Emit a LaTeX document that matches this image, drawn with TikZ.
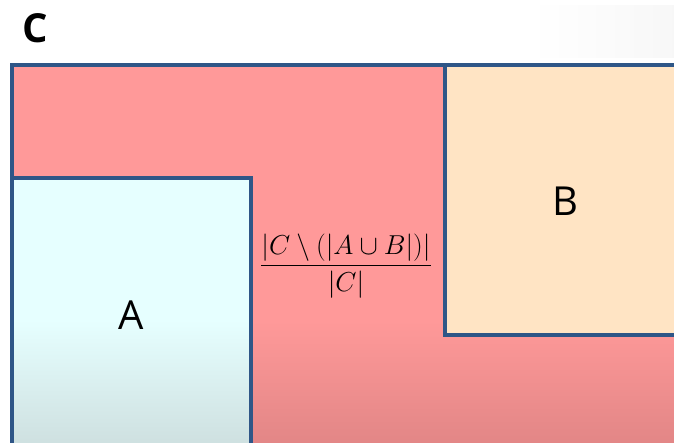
\documentclass[tikz,border=0pt]{standalone}
\usepackage{amsmath}
\usepackage{graphicx}
\usepackage{fontspec}
\setmainfont{Open Sans}
\definecolor{cpink}{RGB}{255,153,153}
\definecolor{cpinkdark}{RGB}{226,134,134}
\definecolor{acyan}{RGB}{230,255,255}
\definecolor{acyandark}{RGB}{206,224,224}
\definecolor{bpeach}{RGB}{255,228,196}
\definecolor{edgeblue}{RGB}{47,86,135}
\tikzset{
  setbox/.style={draw=edgeblue, line width=4pt},
  biglabel/.style={font=\fontsize{40}{44}\selectfont, inner sep=0pt},
}
\begin{document}
\begin{tikzpicture}[x=1pt,y=-1pt]
\useasboundingbox (0,0) rectangle (674,443);
\clip (0,0) rectangle (674,443);
\fill[white] (0,0) rectangle (674,443);
\shade[left color=white, right color=gray!6] (530,6) rectangle (674,58);
% C region
\fill[cpink] (12,65) rectangle (690,320);
\shade[top color=cpink, bottom color=cpinkdark] (12,320) rectangle (690,445);
\draw[setbox] (12,65) rectangle (690,460);
% A region
\fill[acyan] (12,178) rectangle (251,320);
\shade[top color=acyan, bottom color=acyandark] (12,320) rectangle (251,445);
\draw[setbox] (12,178) rectangle (251,460);
% B region
\fill[bpeach] (445,65) rectangle (690,335);
\draw[setbox] (445,65) rectangle (690,335);
% labels
\node[font=\fontsize{40}{44}\selectfont\bfseries, inner sep=0pt] (lc) at (35,28) {C};
\node[biglabel] (la) at (131,315) {A};
\node[biglabel] (lb) at (565,201) {B};
\node[font=\fontsize{24.88}{30}\selectfont, inner sep=0pt] (frac) at (346,266)
  {\scalebox{1.1}{$\dfrac{|C \setminus (|A \cup B|)|}{|C|}$}};
\end{tikzpicture}
\end{document}
